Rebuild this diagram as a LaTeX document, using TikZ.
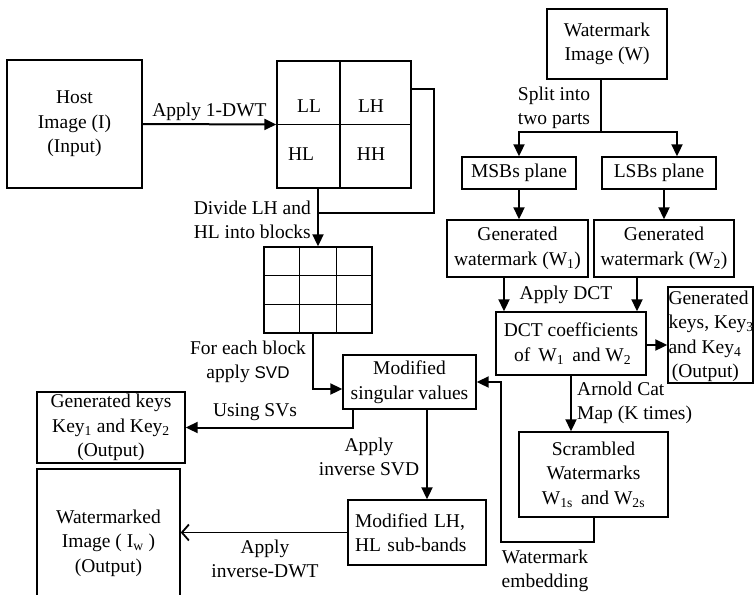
\documentclass[tikz,border=0pt]{standalone}
\usepackage{fontspec}
\setmainfont{Liberation Serif}
\newfontfamily\svdfont{Liberation Sans}
\usetikzlibrary{arrows.meta,calc}
\begin{document}
\begin{tikzpicture}[x=1pt,y=-1pt,
 every node/.style={font=\fontsize{19.5}{24.5}\selectfont, inner sep=0pt},
 box/.style={draw, line width=1.4pt, align=center},
 lbl/.style={align=center},
 arr/.style={line width=2pt, -{Triangle[length=12pt,width=11pt]}},
 oarr/.style={line width=1.8pt, -{Straight Barb[length=7pt,width=16pt]}},
 thinln/.style={line width=1.4pt}]
\useasboundingbox (0,0) rectangle (754,594);

% ---------- left column ----------
\node[box, minimum width=135pt, minimum height=128pt] (host) at (74.5,124) {Host\\Image (I)\\(Input)};
\node[box, minimum width=134pt, minimum height=127pt] (dwt) at (344,124.5) {};
\draw[thinln] ($(dwt.north west)!0.47!(dwt.north east)$) -- ($(dwt.south west)!0.47!(dwt.south east)$);
\draw[thinln] (dwt.west) -- (dwt.east);
\node (ll) at (309,106) {LL};
\node (lh) at (371,106) {LH};
\node (hl) at (301,154) {HL};
\node (hh) at (371,154) {HH};

\draw[arr] (host.east) -- node[above=3pt] {Apply 1-DWT} (dwt.west);

\node[draw, thinln, minimum width=108pt, minimum height=86pt] (blocks) at (318,290) {};
\draw[thinln] ($(blocks.north west)!1/3!(blocks.north east)$) -- ($(blocks.south west)!1/3!(blocks.south east)$);
\draw[thinln] ($(blocks.north west)!2/3!(blocks.north east)$) -- ($(blocks.south west)!2/3!(blocks.south east)$);
\draw[thinln] ($(blocks.north west)!1/3!(blocks.south west)$) -- ($(blocks.north east)!1/3!(blocks.south east)$);
\draw[thinln] ($(blocks.north west)!2/3!(blocks.south west)$) -- ($(blocks.north east)!2/3!(blocks.south east)$);

\coordinate (loopc) at (434,213);
\draw[thinln] ([yshift=35.5pt]dwt.east) -| (loopc) -- (blocks.north |- loopc);
\draw[arr] (blocks.north |- dwt.south) -- (blocks.north);
\node[align=right, anchor=east] (divlbl) at (311,220) {Divide LH and\\HL into blocks};

\node[box, minimum width=133pt, minimum height=54pt] (msv) at (409.5,382) {Modified\\singular values};
\draw[arr] ([xshift=-5pt]blocks.south) |- ([yshift=-7pt]msv.west);
\node[lbl] (forlbl) at (248,362) {For each block\\apply {\svdfont\fontsize{17}{20}\selectfont SVD}};

\node[box, minimum width=148pt, minimum height=71pt] (keys12) at (111,427.5) {Generated keys\\Key\textsubscript{1} and Key\textsubscript{2}\\(Output)};
\draw[arr] ([xshift=11pt]msv.south west) |- (keys12.east);
\node (svlbl) at (255,412) {Using SVs};

\node[box, align=left, minimum width=138pt, minimum height=65pt, text width=124pt] (mod) at (417,532.5) {Modified LH,\\HL sub-bands};
\draw[arr] ([xshift=17.5pt]msv.south) -- ([xshift=17.5pt]msv.south |- mod.north);
\node[lbl] (isvdlbl) at (369,457) {Apply\\inverse SVD};

\node[box, minimum width=143pt, minimum height=148pt] (wm) at (108.5,543) {Watermarked\\Image ( I\textsubscript{w} )\\(Output)};
\draw[oarr] (mod.west) -- (mod.west -| wm.east);
\node[lbl] (idwtlbl) at (265,559) {Apply\\inverse-DWT};

% ---------- right column ----------
\node[box, minimum width=120pt, minimum height=70pt] (wimg) at (607,44) {Watermark\\Image (W)};
\coordinate (split) at (601,132);
\draw[thinln] (wimg.south -| split) -- (split);
\node[lbl] (splitlbl) at (554,108) {Split into\\two parts};

\node[box, minimum width=114pt, minimum height=32pt] (msb) at (519,173) {MSBs plane};
\node[box, minimum width=114pt, minimum height=32pt] (lsb) at (659,173) {LSBs plane};
\draw[arr] (split) -| (msb.north);
\draw[arr] (split) -| ([xshift=18pt]lsb.north);

\node[box, minimum width=141pt, minimum height=57pt] (gw1) at (517.5,248.5) {Generated\\watermark (W\textsubscript{1})};
\node[box, minimum width=140pt, minimum height=57pt] (gw2) at (664,248.5) {Generated\\watermark (W\textsubscript{2})};
\draw[arr] (msb.south) -- (msb.south |- gw1.north);
\draw[arr] ([xshift=5pt]lsb.south) -- ([xshift=5pt]lsb.south |- gw2.north);

\node[box, minimum width=150pt, minimum height=63pt] (dct) at (571,343.5) {DCT coefficients\\\,of\, W\textsubscript{1}\, and W\textsubscript{2}};
\draw[arr] ([xshift=-13.5pt]gw1.south) -- ([xshift=-13.5pt]gw1.south |- dct.north);
\draw[arr] ([xshift=-27pt]gw2.south) -- ([xshift=-27pt]gw2.south |- dct.north);
\node (dctlbl) at (566,295) {Apply DCT};

\node[box, minimum width=85pt, minimum height=96pt] (keys34) at (710.5,335) {};
\node[anchor=north west, align=left] (keys34txt) at ([xshift=1pt,yshift=-4pt]keys34.north west) {Generated\\keys, Key\textsubscript{3}\\and Key\textsubscript{4}\\\,(Output)};
\draw[arr] ([yshift=-1.5pt]dct.east) -- ([yshift=-1.5pt]dct.east -| keys34.west);

\node[box, minimum width=149pt, minimum height=85pt] (scr) at (593.5,474.5) {Scrambled\\Watermarks\\W\textsubscript{1s}\, and W\textsubscript{2s}};
\draw[arr] (dct.south) -- (dct.south |- scr.north);
\node[align=left, anchor=west] (arnlbl) at (577,403) {Arnold Cat\\Map (K times)};

\coordinate (emb) at (501,542);
\draw[arr] (scr.south) |- (emb) |- (msv.east);
\node[lbl] (emblbl) at (545,571) {Watermark\\embedding};
\end{tikzpicture}
\end{document}
